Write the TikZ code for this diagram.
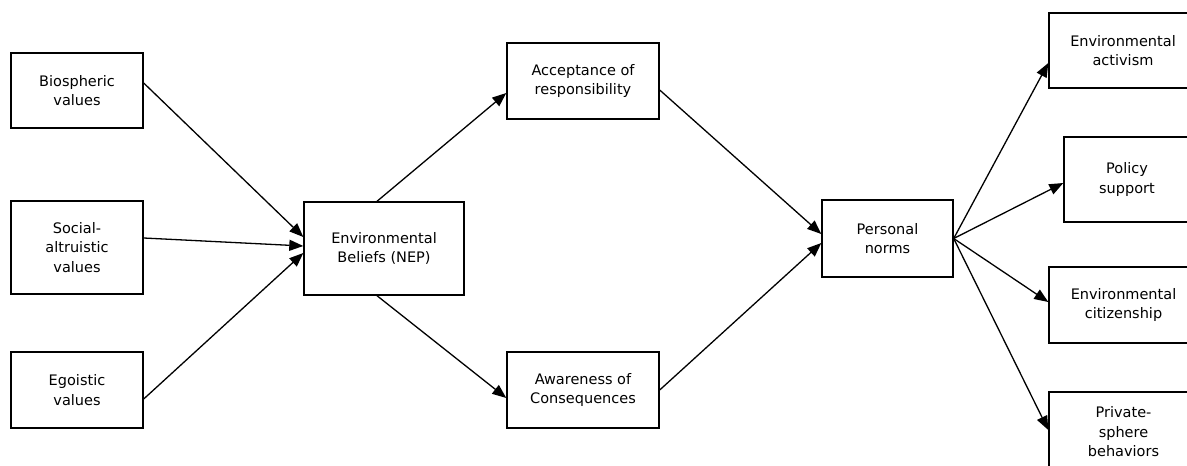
\documentclass[tikz,border=0pt]{standalone}
\usepackage{fontspec}
\setmainfont{DejaVu Sans}
\usetikzlibrary{arrows.meta}
\begin{document}
\begin{tikzpicture}[x=1pt,y=-1pt,
  box/.style={draw=black,line width=1.4pt,fill=white,inner sep=0pt,align=center,
    font=\fontsize{14.5}{19.5}\selectfont},
  link/.style={draw=black,line width=1.3pt,-{Triangle[length=14pt,width=11pt]}}]
\clip (0,0) rectangle (1187,466);
\fill[white] (0,0) rectangle (1187,466);

% values
\node[box,minimum width=132pt,minimum height=75pt] (bio) at (77,90.5) {Biospheric\\values};
\node[box,minimum width=132pt,minimum height=93pt] (soc) at (77,247.5) {Social-\\altruistic\\values};
\node[box,minimum width=132pt,minimum height=76pt] (ego) at (77,390) {Egoistic\\values};

% beliefs
\node[box,minimum width=160pt,minimum height=93pt] (nep) at (384,248.5) {Environmental\\Beliefs (NEP)};
\node[box,minimum width=152pt,minimum height=76pt] (acc) at (583,81) {Acceptance of\\responsibility};
\node[box,minimum width=152pt,minimum height=76pt] (awa) at (583,390) {Awareness of\\Consequences};

% norms
\node[box,minimum width=131pt,minimum height=77pt] (pn) at (887.5,238.5) {Personal\\norms};

% behaviours
\node[box,minimum width=148pt,minimum height=75pt] (act) at (1123,50.5) {Environmental\\activism};
\node[box,minimum width=126pt,minimum height=85pt] (pol) at (1127,179.5) {Policy\\support};
\node[box,minimum width=149pt,minimum height=76pt] (cit) at (1123.5,305) {Environmental\\citizenship};
\node[box,minimum width=149pt,minimum height=80pt] (pri) at (1123.5,432) {Private-\\sphere\\behaviors};

% paths
\draw[link] ([yshift=7.5pt]bio.east) -- ([yshift=11.5pt]nep.west);
\draw[link] ([yshift=9.5pt]soc.east) -- ([yshift=2.5pt]nep.west);
\draw[link] ([yshift=-9pt]ego.east) -- ([yshift=-4.5pt]nep.west);
\draw[link] ([xshift=-7pt]nep.north) -- ([yshift=-12pt]acc.west);
\draw[link] ([xshift=-7pt]nep.south) -- ([yshift=-8pt]awa.west);
\draw[link] ([yshift=-9pt]acc.east) -- ([yshift=4.5pt]pn.west);
\draw[link] (awa.east) -- ([yshift=-4.5pt]pn.west);
\draw[link] (pn.east) -- ([yshift=-12.5pt]act.west);
\draw[link] (pn.east) -- ([yshift=-3.5pt]pol.west);
\draw[link] (pn.east) -- ([yshift=3pt]cit.west);
\draw[link] (pn.east) -- ([yshift=2pt]pri.west);
\end{tikzpicture}
\end{document}
